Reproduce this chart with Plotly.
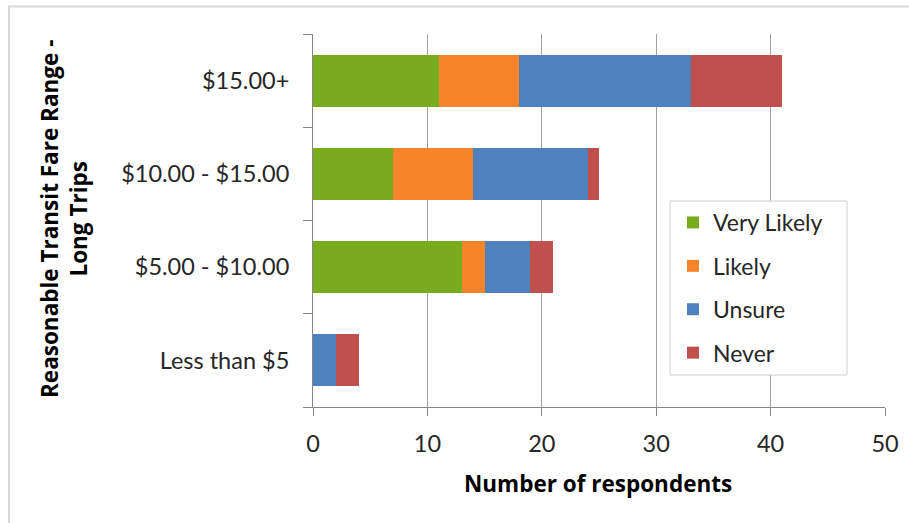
import plotly.graph_objects as go

# Fare ranges, bottom to top
categories = ["Less than $5", "$5.00 - $10.00", "$10.00 - $15.00", "$15.00+"]

very_likely = [0, 13, 7, 11]
likely = [0, 2, 7, 7]
unsure = [2, 4, 10, 15]
never = [2, 2, 1, 8]

series = [
    ("Very Likely", very_likely, "#78AC1E"),
    ("Likely", likely, "#F5842A"),
    ("Unsure", unsure, "#4F81BD"),
    ("Never", never, "#C0504D"),
]

x_ticks = [0, 10, 20, 30, 40, 50]

W, H = 909, 523
L, R, T, B = 313, 885, 34, 407  # plot area in px


def px_x(px):
    return (px - L) / (R - L)


def px_y(py):
    return (B - py) / (B - T)


FONT = "Lato"
TITLE_FONT = "Open Sans"

fig = go.Figure()
for i, (name, vals, color) in enumerate(series):
    fig.add_trace(go.Bar(
        y=categories, x=vals, name=name, orientation="h",
        marker=dict(color=color, line=dict(width=0)),
        width=0.56, legendgroup=str(i),
    ))

fig.update_layout(
    width=W, height=H,
    margin=dict(l=L, r=W - R, t=T, b=H - B, pad=0, autoexpand=False),
    barmode="stack",
    paper_bgcolor="white", plot_bgcolor="white",
    font=dict(family=FONT, size=23, color="#262626"),
    showlegend=True,
    legend=dict(
        x=px_x(673), y=px_y(201), xanchor="left", yanchor="top",
        borderwidth=0, bgcolor="rgba(0,0,0,0)",
        font=dict(family=FONT, size=23, color="#262626"),
        traceorder="grouped", tracegroupgap=10.5,
        itemclick=False,
    ),
    xaxis=dict(
        range=[0, 50], tickvals=x_ticks, ticktext=[str(v) for v in x_ticks],
        showgrid=True, gridcolor="#A0A0A0", gridwidth=1,
        showline=True, linecolor="#868686", linewidth=1,
        ticks="outside", ticklen=8, tickcolor="#868686",
        ticklabelstandoff=8, zeroline=False, automargin=False,
        tickfont=dict(family=FONT, size=23.5, color="#262626"),
    ),
    yaxis=dict(
        type="category", categoryorder="array", categoryarray=categories,
        range=[-0.5, 3.5], tickson="boundaries",
        showgrid=False, showline=True, linecolor="#868686", linewidth=1,
        ticks="outside", ticklen=9, tickcolor="#868686",
        ticklabelstandoff=18, automargin=False,
        tickfont=dict(family=FONT, size=23.5, color="#262626"),
    ),
    shapes=[
        # outer chart frame
        dict(
            type="rect", xref="paper", yref="paper",
            x0=px_x(9), x1=px_x(930), y0=px_y(545), y1=px_y(6.5),
            line=dict(color="#D9D9D9", width=2), fillcolor="rgba(0,0,0,0)",
            layer="below",
        ),
        # legend box
        dict(
            type="rect", xref="paper", yref="paper",
            x0=px_x(670), x1=px_x(847), y0=px_y(375), y1=px_y(201),
            line=dict(color="#D0D0D0", width=1), fillcolor="white",
            layer="above",
        ),
    ],
    annotations=[
        dict(
            text="Number of respondents", xref="paper", yref="paper",
            x=px_x(598), y=px_y(484), xanchor="center", yanchor="middle",
            showarrow=False,
            font=dict(family=TITLE_FONT, size=22.5, color="black", weight="bold"),
        ),
        dict(
            text="Reasonable Transit Fare Range -<br>Long Trips",
            xref="paper", yref="paper", textangle=-90,
            x=px_x(64), y=px_y(219), xanchor="center", yanchor="middle",
            showarrow=False,
            font=dict(family=TITLE_FONT, size=22.5, color="black", weight="bold"),
        ),
    ],
)

fig.write_html("out.html")
